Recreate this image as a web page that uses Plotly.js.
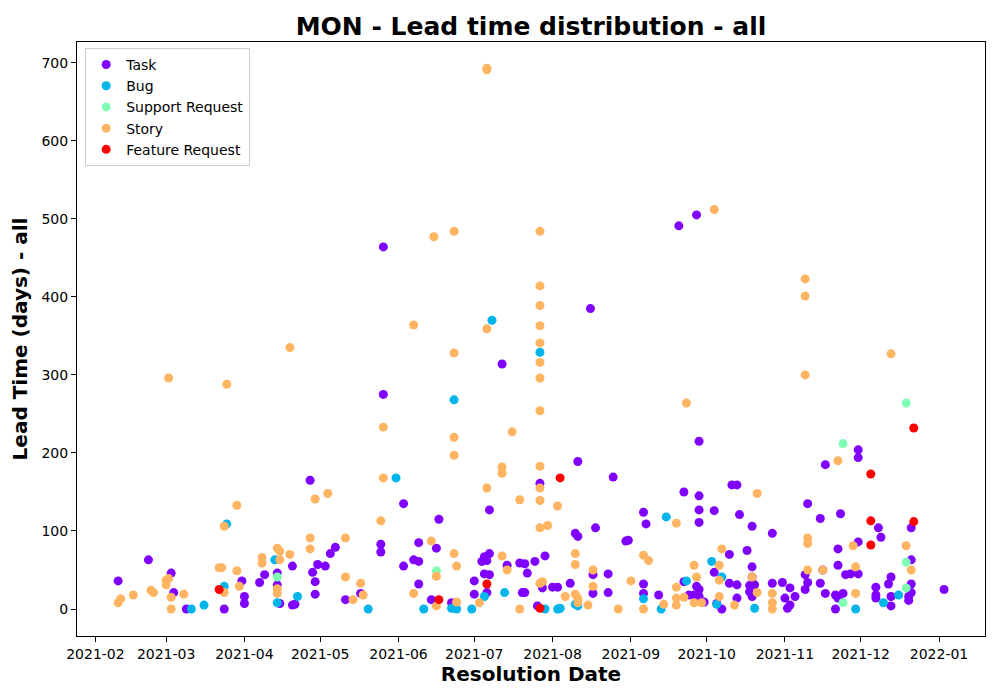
<!DOCTYPE html>
<html>
<head>
<meta charset="utf-8">
<script src="https://cdn.plot.ly/plotly-3.0.1.min.js"></script>
<style>
  body { margin: 0; background: #fff; }
  #chart { width: 1000px; height: 700px; }
</style>
</head>
<body>
<div id="chart"></div>
<script>
// resolution date / lead time (days), one pair of arrays per issue type
var taskDates = [
    "2021-02-10", "2021-02-22", "2021-03-03", "2021-03-04", "2021-03-09", "2021-03-24", "2021-03-31",
    "2021-04-01", "2021-04-01", "2021-04-09", "2021-04-07", "2021-04-14", "2021-04-14", "2021-04-15",
    "2021-04-20", "2021-04-20", "2021-04-21", "2021-04-27", "2021-05-07", "2021-05-05", "2021-04-30",
    "2021-05-03", "2021-04-28", "2021-04-29", "2021-04-29", "2021-05-11", "2021-05-26", "2021-05-26",
    "2021-05-25", "2021-05-25", "2021-06-03", "2021-06-17", "2021-06-09", "2021-06-16", "2021-06-07",
    "2021-06-09", "2021-06-03", "2021-06-09", "2021-06-14", "2021-06-22", "2021-05-17",
    "2021-08-11", "2021-07-27", "2021-07-07", "2021-08-10", "2021-08-11", "2021-07-05", "2021-07-07",
    "2021-07-04", "2021-07-06", "2021-07-14", "2021-07-19", "2021-07-21", "2021-07-22", "2021-07-25",
    "2021-07-29", "2021-07-05", "2021-07-07", "2021-07-01", "2021-07-06", "2021-07-01", "2021-07-20",
    "2021-07-21", "2021-07-28", "2021-08-01", "2021-08-03", "2021-08-08", "2021-07-26", "2021-07-12",
    "2021-08-16", "2021-08-25", "2021-09-20", "2021-09-27", "2021-09-28", "2021-09-22", "2021-09-28",
    "2021-09-06", "2021-09-07", "2021-09-28", "2021-09-28", "2021-08-18", "2021-08-30", "2021-08-31",
    "2021-08-17", "2021-08-23", "2021-09-06", "2021-08-17", "2021-08-23", "2021-09-06", "2021-09-12",
    "2021-09-22", "2021-09-27", "2021-09-28", "2021-09-26", "2021-09-28", "2021-09-24",
    "2021-11-17", "2021-10-11", "2021-10-13", "2021-10-04", "2021-10-14", "2021-10-19", "2021-10-27",
    "2021-11-10", "2021-11-15", "2021-10-10", "2021-10-17", "2021-10-04", "2021-10-19", "2021-10-19",
    "2021-10-10", "2021-10-13", "2021-10-18", "2021-10-20", "2021-10-18", "2021-10-19", "2021-10-27",
    "2021-10-31", "2021-11-03", "2021-11-05", "2021-11-01", "2021-11-03", "2021-11-02", "2021-09-30",
    "2021-10-05", "2021-10-07", "2021-11-09", "2021-11-10", "2021-11-09", "2021-11-16", "2021-11-15",
    "2021-11-17", "2021-11-30", "2021-11-30", "2021-11-23", "2021-12-08", "2021-12-09", "2021-12-21",
    "2021-11-30", "2021-11-22", "2021-12-21", "2021-11-22", "2021-11-25", "2021-11-27", "2021-11-30",
    "2021-12-13", "2021-12-12", "2021-12-07", "2021-12-07", "2021-12-21", "2021-12-21", "2021-11-21",
    "2021-11-24", "2021-11-22", "2021-11-21", "2021-12-07", "2021-12-13", "2021-12-13", "2021-12-20",
    "2021-12-20", "2022-01-03", "2021-10-13"
];
var taskDays = [
    36, 63, 46, 21, 0, 0, 36,
    16, 7, 44, 34, 46, 31, 7,
    55, 5, 6, 165, 79, 71, 57,
    55, 47, 35, 19, 12, 464, 275,
    83, 73, 135, 115, 85, 78, 63,
    61, 55, 32, 12, 8, 20,
    189, 161, 127, 97, 93, 67, 71,
    61, 62, 56, 59, 58, 46, 61,
    68, 45, 44, 36, 21, 19, 21,
    21, 27, 28, 28, 33, 4, 314,
    385, 169, 491, 505, 215, 150, 145,
    124, 109, 127, 111, 104, 87, 88,
    44, 45, 32, 20, 21, 20, 18,
    35, 29, 25, 18, 16, 18,
    185, 159, 159, 126, 121, 106, 97,
    135, 116, 70, 75, 47, 54, 41,
    33, 31, 30, 31, 22, 16, 33,
    34, 27, 16, 14, 5, 1, 9,
    7, 0, 44, 34, 25, 50, 33,
    20, 204, 194, 122, 104, 92, 104,
    86, 77, 63, 56, 44, 45, 45,
    41, 32, 28, 18, 32, 21, 18,
    20, 14, 0, 14, 16, 4, 16,
    11, 25, 14
];

var bugDates = [
    "2021-03-11", "2021-03-16", "2021-03-25", "2021-03-24", "2021-04-13", "2021-04-14", "2021-04-22",
    "2021-05-31", "2021-05-20", "2021-06-11", "2021-06-22", "2021-06-24", "2021-06-30", "2021-07-08",
    "2021-06-23", "2021-07-27", "2021-07-05", "2021-07-13", "2021-07-29", "2021-08-03", "2021-08-04",
    "2021-08-10", "2021-08-11", "2021-09-15", "2021-09-23", "2021-09-06", "2021-09-13", "2021-10-03",
    "2021-10-07", "2021-10-05", "2021-10-20", "2021-11-29", "2021-12-10", "2021-12-16"
];
var bugDays = [
    0, 5, 109, 29, 63, 8, 16,
    168, 0, 0, 1, 0, 0, 370,
    268, 329, 16, 21, 0, 0, 1,
    6, 4, 118, 36, 13, 0, 61,
    41, 6, 1, 0, 8, 18
];

var supportDates = ["2021-04-14", "2021-06-16", "2021-11-24", "2021-12-19", "2021-12-19", "2021-12-19", "2021-11-24"];
var supportDays = [41, 49, 212, 264, 60, 27, 8];

var storyDates = [
    "2021-02-10", "2021-02-11", "2021-02-16", "2021-02-23", "2021-02-24", "2021-03-01", "2021-03-02",
    "2021-03-01", "2021-03-03", "2021-03-03", "2021-03-08", "2021-03-02", "2021-03-24", "2021-03-22",
    "2021-03-23", "2021-03-24", "2021-03-25", "2021-03-29", "2021-03-29", "2021-03-30", "2021-04-08",
    "2021-04-08", "2021-04-14", "2021-04-15", "2021-04-15", "2021-04-14", "2021-04-14", "2021-04-19",
    "2021-04-19", "2021-04-29", "2021-05-04", "2021-04-27", "2021-04-27", "2021-05-11", "2021-05-11",
    "2021-05-14", "2021-05-17", "2021-05-18", "2021-05-26", "2021-05-26", "2021-05-25", "2021-06-07",
    "2021-06-15", "2021-06-23", "2021-06-23", "2021-06-23", "2021-06-23", "2021-06-14", "2021-06-23",
    "2021-06-24", "2021-06-16", "2021-06-07", "2021-06-16", "2021-06-24",
    "2021-07-06", "2021-07-06", "2021-07-06", "2021-07-06", "2021-07-16", "2021-07-12", "2021-07-12",
    "2021-07-27", "2021-07-27", "2021-07-27", "2021-07-27", "2021-07-27", "2021-07-27", "2021-07-27",
    "2021-07-27", "2021-07-27", "2021-07-27", "2021-07-27", "2021-07-27", "2021-07-30", "2021-07-19",
    "2021-08-03", "2021-07-12", "2021-07-14", "2021-07-27", "2021-07-28", "2021-07-03", "2021-07-19",
    "2021-08-10", "2021-08-10", "2021-08-06", "2021-08-10", "2021-08-11", "2021-08-11", "2021-08-17",
    "2021-08-17", "2021-08-15", "2021-08-27", "2021-09-01", "2021-09-06", "2021-09-06", "2021-09-08",
    "2021-09-14", "2021-09-19", "2021-09-23", "2021-09-26", "2021-09-27", "2021-09-19", "2021-09-19",
    "2021-09-22", "2021-09-19", "2021-09-26", "2021-09-29",
    "2021-10-04", "2021-10-21", "2021-10-07", "2021-10-06", "2021-10-06", "2021-10-06", "2021-10-19",
    "2021-10-21", "2021-10-27", "2021-10-27", "2021-10-27", "2021-10-12", "2021-11-09", "2021-11-09",
    "2021-11-09", "2021-11-10", "2021-11-10", "2021-11-10", "2021-11-16", "2021-11-22", "2021-11-28",
    "2021-11-29", "2021-11-29", "2021-12-13", "2021-12-19", "2021-12-21"
];
var storyDays = [
    8, 13, 18, 24, 21, 37, 39,
    31, 15, 0, 19, 296, 106, 53,
    53, 21, 288, 133, 49, 29, 66,
    59, 78, 74, 63, 26, 20, 70,
    335, 141, 148, 91, 77, 91, 41,
    12, 33, 18, 233, 168, 113, 364,
    477, 484, 328, 220, 197, 87, 71,
    55, 42, 20, 4, 9,
    693, 691, 359, 155, 227, 182, 174,
    484, 414, 389, 363, 341, 316, 296,
    254, 183, 155, 139, 104, 107, 140,
    132, 68, 50, 33, 35, 8, 0,
    71, 57, 16, 19, 14, 8, 50,
    29, 5, 0, 36, 0, 69, 62,
    6, 110, 264, 56, 41, 28, 14,
    15, 5, 8, 8,
    512, 148, 77, 56, 37, 16, 41,
    21, 20, 8, 0, 5, 423, 401,
    300, 91, 84, 50, 50, 190, 81,
    54, 20, 327, 81, 50
];

var featureDates = [
    "2021-03-22", "2021-06-17", "2021-07-06", "2021-07-27", "2021-08-04",
    "2021-12-05", "2021-12-05", "2021-12-05", "2021-12-22", "2021-12-22"
];
var featureDays = [25, 12, 32, 1, 168, 173, 113, 82, 232, 112];

var issueTypes = ["Task", "Bug", "Support Request", "Story", "Feature Request"];
var typeColors = ["#8000ff", "#00b4ec", "#80ffb4", "#ffb462", "#ff0000"];
var xs = [taskDates, bugDates, supportDates, storyDates, featureDates];
var ys = [taskDays, bugDays, supportDays, storyDays, featureDays];

var dataset = issueTypes.map(function (name, i) {
    return {
        x: xs[i],
        y: ys[i],
        name: name,
        type: "scatter",
        mode: "markers",
        marker: { color: typeColors[i], size: 9 },
    };
});

var axisStyle = {
    showline: true,
    mirror: true,
    linecolor: "#000",
    linewidth: 1,
    showgrid: false,
    zeroline: false,
    ticks: "outside",
    ticklen: 5,
    tickwidth: 1,
    tickcolor: "#000",
    tickfont: { size: 14, color: "#000" },
};

var layout = {
    width: 1000,
    height: 700,
    margin: { l: 77, r: 15, t: 42, b: 64 },
    paper_bgcolor: "#fff",
    plot_bgcolor: "#fff",
    font: { family: "DejaVu Sans", color: "#000" },
    title: {
        text: "<b>MON - Lead time distribution - all</b>",
        font: { size: 25 },
        x: 0.531,
        xanchor: "center",
        y: 0.963,
        yanchor: "middle",
    },
    xaxis: Object.assign({}, axisStyle, {
        type: "date",
        range: ["2021-01-24 17:00", "2022-01-19 05:00"],
        tick0: "2021-02-01",
        dtick: "M1",
        tickformat: "%Y-%m",
        title: { text: "<b>Resolution Date</b>", font: { size: 20 }, standoff: 6 },
    }),
    yaxis: Object.assign({}, axisStyle, {
        range: [-34.6, 726.6],
        tick0: 0,
        dtick: 100,
        title: { text: "<b>Lead Time (days) - all</b>", font: { size: 20 }, standoff: 8 },
    }),
    legend: {
        x: 0.009,
        y: 0.99,
        xanchor: "left",
        yanchor: "top",
        bgcolor: "rgba(255,255,255,0.8)",
        bordercolor: "#cccccc",
        borderwidth: 1,
        font: { size: 14 },
    },
    showlegend: true,
};

Plotly.newPlot("chart", dataset, layout, { displayModeBar: false });
</script>
</body>
</html>
